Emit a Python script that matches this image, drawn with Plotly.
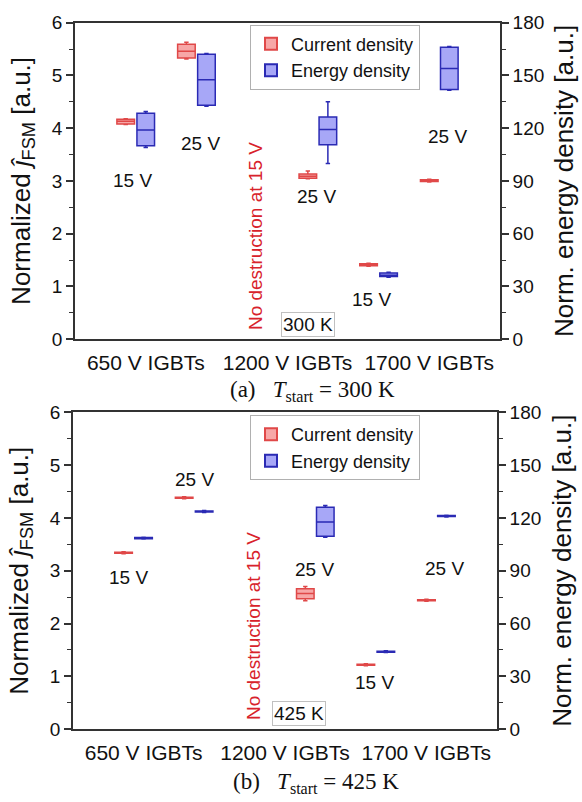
import plotly.graph_objects as go

# ---------------- data ----------------
group_labels = ["650 V IGBTs", "1200 V IGBTs", "1700 V IGBTs"]
slots = [1, 2, 4, 5, 6]          # 650/15V, 650/25V, 1200/25V, 1700/15V, 1700/25V

# T_start = 300 K
cur300_q1 = [4.08, 5.33, 3.05, 1.39, 2.99]
cur300_med = [4.13, 5.46, 3.09, 1.41, 3.01]
cur300_q3 = [4.17, 5.59, 3.13, 1.43, 3.02]
cur300_lo = [4.07, 5.31, 3.04, 1.38, 2.98]
cur300_hi = [4.18, 5.63, 3.19, 1.44, 3.03]

en300_q1 = [110.0, 133.0, 110.6, 35.6, 142.0]
en300_med = [119.0, 147.5, 119.2, 36.4, 154.0]
en300_q3 = [128.5, 162.0, 126.3, 37.6, 166.0]
en300_lo = [109.0, 132.5, 99.9, 35.2, 141.5]
en300_hi = [129.5, 162.5, 135.0, 38.0, 166.5]

# T_start = 425 K
cur425_q1 = [3.33, 4.37, 2.47, 1.21, 2.43]
cur425_med = [3.34, 4.38, 2.57, 1.22, 2.44]
cur425_q3 = [3.35, 4.39, 2.66, 1.23, 2.45]
cur425_lo = [3.32, 4.36, 2.43, 1.20, 2.42]
cur425_hi = [3.36, 4.40, 2.70, 1.24, 2.46]

en425_q1 = [108.2, 123.3, 109.6, 43.7, 120.7]
en425_med = [108.5, 123.6, 117.7, 44.0, 121.0]
en425_q3 = [108.8, 123.9, 126.0, 44.3, 121.3]
en425_lo = [108.0, 123.0, 109.0, 43.5, 120.5]
en425_hi = [109.0, 124.2, 127.0, 44.5, 121.5]

# ---------------- styles ----------------
FONT = "Liberation Sans, Arial, sans-serif"
SERIF = "Liberation Serif, Times New Roman, serif"
AX = "#333333"
RED_FILL = "rgba(240,80,80,0.5)"
RED_LINE = "#e04848"
BLUE_FILL = "rgba(80,80,240,0.5)"
BLUE_LINE = "#2a2ab4"
OFF = 0.165
BW = 0.29

fig = go.Figure()


def add_box(name, xs, q1, med, q3, lo, hi, fill, line, xa, ya, legend, show):
    fig.add_trace(go.Box(
        name=name, x=xs, q1=q1, median=med, q3=q3, lowerfence=lo, upperfence=hi,
        fillcolor=fill, line=dict(color=line, width=1.5), width=BW,
        whiskerwidth=0.25, xaxis=xa, yaxis=ya, legend=legend, showlegend=show,
        hoverinfo="skip"))


xs_red = [s - OFF for s in slots]
xs_blue = [s + OFF for s in slots]

add_box("Current density", xs_red, cur300_q1, cur300_med, cur300_q3, cur300_lo, cur300_hi,
        RED_FILL, RED_LINE, "x", "y", "legend", True)
add_box("Energy density", xs_blue, en300_q1, en300_med, en300_q3, en300_lo, en300_hi,
        BLUE_FILL, BLUE_LINE, "x", "y2", "legend", True)
add_box("Current density", xs_red, cur425_q1, cur425_med, cur425_q3, cur425_lo, cur425_hi,
        RED_FILL, RED_LINE, "x3", "y3", "legend2", True)
add_box("Energy density", xs_blue, en425_q1, en425_med, en425_q3, en425_lo, en425_hi,
        BLUE_FILL, BLUE_LINE, "x3", "y4", "legend2", True)

W, H = 582, 802
top_x = [75 / W, 500 / W]
top_y = [1 - 338 / H, 1 - 13 / H]
bot_x = [73 / W, 497 / W]
bot_y = [1 - 738.5 / H, 1 - 413 / H]

tickfont = dict(family=FONT, size=19, color="#111")
xtickfont = dict(family=FONT, size=21, color="#111")
titlefont = dict(family=FONT, size=26, color="#111")
label_pos = [7 / 6, 3.5, 35 / 6]


def xlabel_axis(domain, anchor):
    return dict(domain=domain, anchor=anchor, range=[0, 7], tickvals=label_pos,
                ticktext=group_labels, ticks="", showline=True, linecolor=AX, linewidth=1.6,
                mirror=True, showgrid=False, zeroline=False, tickfont=xtickfont,
                ticklabelstandoff=4)


def xtick_axis(over, anchor):
    return dict(overlaying=over, anchor=anchor, range=[0, 7], tickvals=list(range(8)),
                ticks="outside", ticklen=7, tickwidth=1.6, tickcolor=AX,
                showticklabels=False, showline=False, showgrid=False, zeroline=False)


def yleft(domain, anchor):
    return dict(domain=domain, anchor=anchor, range=[0, 6], dtick=1, ticks="outside",
                ticklen=7, tickwidth=1.6, tickcolor=AX, showline=True, linecolor=AX,
                linewidth=1.6, showgrid=False, zeroline=False, tickfont=tickfont,
                minor=dict(dtick=0.5, ticks="outside", ticklen=4, tickcolor=AX, tickwidth=1.2),
                title=dict(text="Normalized <i>ĵ</i><sub>FSM</sub> [a.u.]", font=titlefont,
                           standoff=14))


def yright(over, anchor):
    return dict(overlaying=over, anchor=anchor, side="right", range=[0, 180], dtick=30,
                ticks="outside", ticklen=7, tickwidth=1.6, tickcolor=AX, showline=True,
                linecolor=AX, linewidth=1.6, showgrid=False, zeroline=False, tickfont=tickfont,
                minor=dict(dtick=15, ticks="outside", ticklen=4, tickcolor=AX, tickwidth=1.2),
                title=dict(text="Norm. energy density [a.u.]", font=titlefont, standoff=12))


legend_common = dict(font=dict(family=FONT, size=18, color="#111"), bgcolor="white",
                     bordercolor="#b0b0b0", borderwidth=1, xanchor="left", yanchor="top",
                     tracegroupgap=0, itemsizing="constant")

annot_font = dict(family=FONT, size=19, color="#111")
red_font = dict(family=FONT, size=19, color="#d8222b")

volt_labels = ["15 V", "25 V", "25 V", "15 V", "25 V"]
top_label_pos = [(0.94, 3.01), (2.06, 3.71), (3.97, 2.70), (4.89, 0.76), (6.14, 3.84)]
bot_label_pos = [(0.92, 2.87), (2.01, 4.72), (3.98, 3.02), (4.98, 0.89), (6.14, 3.05)]

annotations = []
for t, (ax_, ay_) in zip(volt_labels, top_label_pos):
    annotations.append(dict(x=ax_, y=ay_, xref="x", yref="y", text=t, showarrow=False, font=annot_font))
for t, (ax_, ay_) in zip(volt_labels, bot_label_pos):
    annotations.append(dict(x=ax_, y=ay_, xref="x3", yref="y3", text=t, showarrow=False, font=annot_font))

annotations += [
    dict(x=2.97, y=1.96, xref="x", yref="y", text="No destruction at 15 V", textangle=-90,
         showarrow=False, font=red_font),
    dict(x=2.97, y=1.95, xref="x3", yref="y3", text="No destruction at 15 V", textangle=-90,
         showarrow=False, font=red_font),
    dict(x=3.84, y=0.28, xref="x", yref="y", text="300 K", showarrow=False, font=annot_font,
         bordercolor="#c0c0c0", borderwidth=1, borderpad=1, bgcolor="white"),
    dict(x=3.73, y=0.30, xref="x3", yref="y3", text="425 K", showarrow=False, font=annot_font,
         bordercolor="#c0c0c0", borderwidth=1, borderpad=1, bgcolor="white"),
    dict(x=312 / W, y=1 - 391 / H, xref="paper", yref="paper", xanchor="center", yanchor="middle",
         text="(a)\u00a0\u00a0\u00a0<i>T</i><sub>start</sub> = 300 K", showarrow=False,
         font=dict(family=SERIF, size=23, color="#111")),
    dict(x=316 / W, y=0, xref="paper", yref="paper", xanchor="center", yanchor="bottom",
         yshift=-7, text="(b)\u00a0\u00a0\u00a0<i>T</i><sub>start</sub> = 425 K", showarrow=False,
         borderpad=0, font=dict(family=SERIF, size=23, color="#111")),
]

fig.update_layout(
    width=W, height=H, margin=dict(l=0, r=0, t=0, b=0),
    paper_bgcolor="white", plot_bgcolor="white", boxmode="overlay",
    font=dict(family=FONT, color="#111"),
    xaxis=xlabel_axis(top_x, "y"),
    xaxis2=xtick_axis("x", "y"),
    xaxis3=xlabel_axis(bot_x, "y3"),
    xaxis4=xtick_axis("x3", "y3"),
    yaxis=yleft(top_y, "x"),
    yaxis2=yright("y", "x"),
    yaxis3=yleft(bot_y, "x3"),
    yaxis4=yright("y3", "x3"),
    legend=dict(x=250 / W, y=1 - 15 / H, **legend_common),
    legend2=dict(x=250 / W, y=1 - 416 / H, **legend_common),
    annotations=annotations,
)

fig.write_html("out.html")
